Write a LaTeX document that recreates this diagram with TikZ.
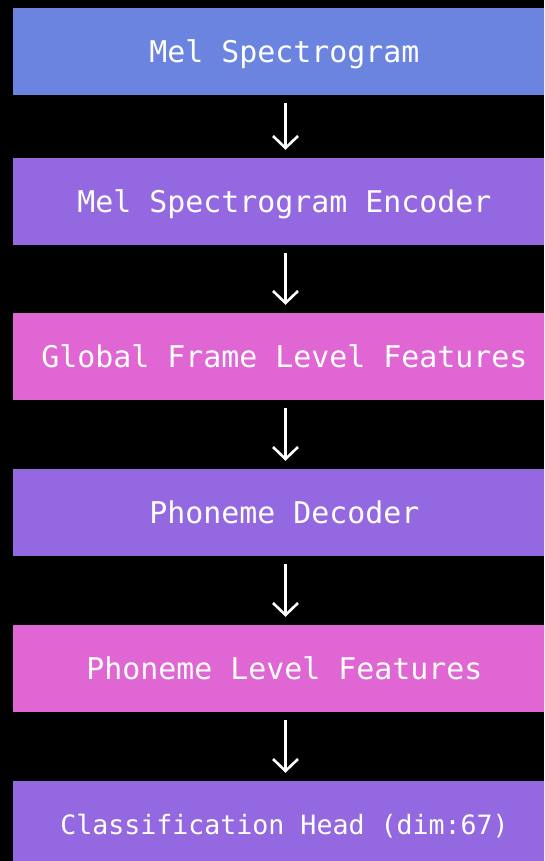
\documentclass[tikz,border=0pt]{standalone}
\usepackage{fontspec}
\setmonofont{DejaVu Sans Mono}
\usetikzlibrary{arrows.meta}
\definecolor{melblue}{HTML}{6A84E0}
\definecolor{stagepurple}{HTML}{9368E0}
\definecolor{featpink}{HTML}{E066D3}
\tikzset{
  stagebox/.style={fill=#1, draw=none, inner sep=0pt, minimum width=543pt,
    minimum height=87pt, text=white, text depth=0pt,
    font=\ttfamily\fontsize{29.9}{32}\selectfont},
  flowarrow/.style={draw=white, line width=2.6pt,
    -{Straight Barb[length=12pt, width=25pt, line width=2.6pt]}},
}
\begin{document}
\begin{tikzpicture}[x=1pt, y=-1pt]
  \fill[black] (0,0) rectangle (544,861);
  \useasboundingbox (0,0) rectangle (544,861);
  \begin{scope}
    \clip (0,0) rectangle (544,861);
    \node[stagebox=melblue]      (mel)  at (284.5,51.5)  {Mel Spectrogram};
    \node[stagebox=stagepurple]  (enc)  at (284.5,201.5) {Mel Spectrogram Encoder};
    \node[stagebox=featpink]     (glob) at (284.5,356.5) {Global Frame Level Features};
    \node[stagebox=stagepurple]  (dec)  at (284.5,512.5) {Phoneme Decoder};
    \node[stagebox=featpink]     (phon) at (284.5,668.5) {Phoneme Level Features};
    \node[stagebox=stagepurple, font=\ttfamily\fontsize{26.6}{30}\selectfont]
                                 (head) at (284.5,824.5) {Classification Head (dim:67)};
  \end{scope}
  % downward arrows between consecutive stages
  \foreach \a/\b in {mel/enc, enc/glob, glob/dec, dec/phon, phon/head} {
    \draw[flowarrow] ([xshift=1pt,yshift=-8pt]\a.south) -- ([xshift=1pt,yshift=8pt]\b.north);
  }
\end{tikzpicture}
\end{document}
